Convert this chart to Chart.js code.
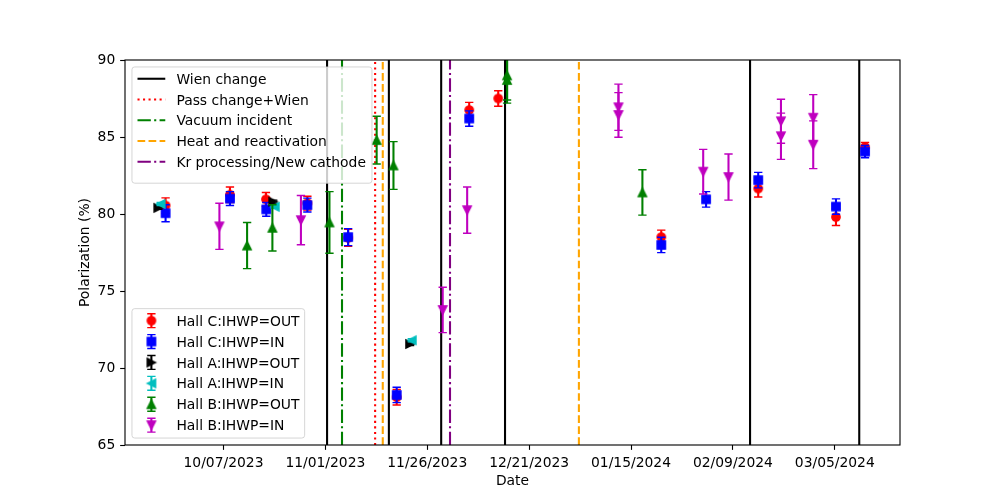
<!DOCTYPE html>
<html><head><meta charset="utf-8">
<script src="https://cdn.jsdelivr.net/npm/chart.js@4"></script>
<style>html,body{margin:0;padding:0;background:#fff}</style>
</head><body>
<canvas id="c" width="1000" height="500"></canvas>
<script>
// ---------------- data ----------------
const tickDates  = ['2023-10-07','2023-11-01','2023-11-26','2023-12-21','2024-01-15','2024-02-09','2024-03-05'];
const tickLabels = ['10/07/2023','11/01/2023','11/26/2023','12/21/2023','01/15/2024','02/09/2024','03/05/2024'];
const xStart = '2023-09-12T20';
const xEnd   = '2024-03-21';
const yMin = 65, yMax = 90, yStep = 5;

const hallCOutDates = ['2023-09-22T19','2023-10-08T14','2023-10-17T10','2023-10-27T14','2023-11-06T14','2023-11-18T12','2023-12-06T07','2023-12-13T10','2024-01-22T10','2024-02-15T05','2024-03-05T07','2024-03-12T10'];
const hallCOutPol   = [80.55, 81.25, 80.95, 80.7, 78.45, 68.1, 86.75, 87.5, 78.5, 81.65, 79.8, 84.35];
const hallCOutErr   = [0.5, 0.5, 0.45, 0.45, 0.55, 0.5, 0.5, 0.5, 0.45, 0.55, 0.55, 0.3];

const hallCInDates = ['2023-09-22T19','2023-10-08T14','2023-10-17T12','2023-10-27T14','2023-11-06T14','2023-11-18T12','2023-12-06T07','2024-01-22T10','2024-02-02T10','2024-02-15T05','2024-03-05T07','2024-03-12T10'];
const hallCInPol   = [80.05, 81.0, 80.3, 80.58, 78.5, 68.25, 86.2, 77.99, 80.95, 82.2, 80.48, 84.05];
const hallCInErr   = [0.55, 0.45, 0.45, 0.45, 0.55, 0.5, 0.5, 0.5, 0.5, 0.5, 0.5, 0.4];

const hallAOutDates = ['2023-09-21','2023-10-19T05','2023-11-21T19'];
const hallAOutPol   = [80.4, 80.8, 71.56];
const hallAOutErr   = [0.1, 0.1, 0.1];

const hallAInDates = ['2023-09-21T14','2023-10-19T14','2023-11-22T05'];
const hallAInPol   = [80.65, 80.47, 71.8];
const hallAInErr   = [0.1, 0.1, 0.1];

const hallBOutDates = ['2023-10-12T19','2023-10-19','2023-11-02','2023-11-13T14','2023-11-17T17','2023-12-15T14','2023-12-15T14','2024-01-17T19'];
const hallBOutPol   = [77.95, 79.1, 79.45, 84.8, 83.15, 89.0, 88.7, 81.4];
const hallBOutErr   = [1.5, 1.5, 2.0, 1.55, 1.55, 1.6, 1.5, 1.47];

const hallBInDates = ['2023-10-06','2023-10-26','2023-11-29T19','2023-12-05T19','2024-01-11T22','2024-01-11T22','2024-02-01T17','2024-02-07T22','2024-02-20T19','2024-02-20T19','2024-02-28T17','2024-02-28T17'];
const hallBInPol   = [79.2, 79.6, 73.77, 80.25, 86.93, 86.43, 82.75, 82.4, 86.02, 85.05, 86.25, 84.5];
const hallBInErr   = [1.5, 1.6, 1.47, 1.5, 1.5, 1.45, 1.45, 1.5, 1.43, 1.5, 1.5, 1.55];

const wienDates     = ['2023-11-01T10','2023-11-16T14','2023-11-29T10','2023-12-15T02','2024-02-13T05','2024-03-11'];
const passWienDates = ['2023-11-13T05'];
const vacuumDates   = ['2023-11-05T02'];
const heatDates     = ['2023-11-15T02','2024-01-02T05'];
const krDates       = ['2023-12-01T14'];

// ---------------- helpers / styles ----------------
const PT = 100/72;
const FS = 10*PT;
const FONT = 'DejaVu Sans';
const CAP = 3*PT;
function toDay(s){ return Date.parse(s.length > 10 ? s + ':00:00Z' : s + 'T00:00:00Z') / 864e5; }

function makeMarker(shape, color){
  const c = document.createElement('canvas'); c.width = 16; c.height = 16;
  const g = c.getContext('2d'); const h = 3*PT;
  g.translate(8,8); g.beginPath();
  if (shape==='o') g.arc(0,0,h,0,2*Math.PI);
  else if (shape==='s') g.rect(-h,-h,2*h,2*h);
  else if (shape==='^'){ g.moveTo(0,-h); g.lineTo(-h,h); g.lineTo(h,h); g.closePath(); }
  else if (shape==='v'){ g.moveTo(0,h); g.lineTo(-h,-h); g.lineTo(h,-h); g.closePath(); }
  else if (shape==='>'){ g.moveTo(h,0); g.lineTo(-h,-h); g.lineTo(-h,h); g.closePath(); }
  else if (shape==='<'){ g.moveTo(-h,0); g.lineTo(h,-h); g.lineTo(h,h); g.closePath(); }
  g.fillStyle = color; g.fill();
  g.lineWidth = PT; g.strokeStyle = color; g.lineJoin = 'miter'; g.stroke();
  return c;
}

const series = [
  {label:'Hall C:IHWP=OUT', dates:hallCOutDates, vals:hallCOutPol, errs:hallCOutErr, color:'#ff0000', marker:'o', order:6},
  {label:'Hall C:IHWP=IN',  dates:hallCInDates,  vals:hallCInPol,  errs:hallCInErr,  color:'#0000ff', marker:'s', order:5},
  {label:'Hall A:IHWP=OUT', dates:hallAOutDates, vals:hallAOutPol, errs:hallAOutErr, color:'#000000', marker:'>', order:4},
  {label:'Hall A:IHWP=IN',  dates:hallAInDates,  vals:hallAInPol,  errs:hallAInErr,  color:'#00bfbf', marker:'<', order:3},
  {label:'Hall B:IHWP=OUT', dates:hallBOutDates, vals:hallBOutPol, errs:hallBOutErr, color:'#008000', marker:'^', order:2},
  {label:'Hall B:IHWP=IN',  dates:hallBInDates,  vals:hallBInPol,  errs:hallBInErr,  color:'#bf00bf', marker:'v', order:1},
];
const DASHDOT = [9.6*PT, 2.4*PT, 1.5*PT, 2.4*PT];
const lineDefs = [
  {label:'Wien change', dates:wienDates, color:'#000000', dash:[]},
  {label:'Pass change+Wien', dates:passWienDates, color:'#ff0000', dash:[1.5*PT, 2.475*PT]},
  {label:'Vacuum incident', dates:vacuumDates, color:'#008000', dash:DASHDOT},
  {label:'Heat and reactivation', dates:heatDates, color:'#ffa500', dash:[5.55*PT, 2.4*PT]},
  {label:'Kr processing/New cathode', dates:krDates, color:'#800080', dash:DASHDOT},
];

const datasets = [];
lineDefs.forEach(l => {
  const pts = [];
  l.dates.forEach(d => { const x = toDay(d); pts.push({x, y:yMin}, {x, y:yMax}, {x, y:null}); });
  datasets.push({label:l.label, data:pts, showLine:true, spanGaps:false, borderColor:l.color,
    borderWidth:1.5*PT, borderDash:l.dash, pointRadius:0, order:10, isVLine:true});
});
series.forEach(s => {
  s.img = makeMarker(s.marker, s.color);
  datasets.push({label:s.label, data:s.dates.map((d,i)=>({x:toDay(d), y:s.vals[i]})),
    errs:s.errs, errColor:s.color, pointStyle:s.img, pointRadius:5, pointHoverRadius:5,
    showLine:false, order:s.order});
});

// ---------------- plugins ----------------
const errPlugin = {
  id:'errbars',
  beforeDatasetDraw(chart, args){
    const ds = chart.data.datasets[args.index];
    if (!ds.errs) return;
    const {ctx, chartArea:a} = chart; const xs = chart.scales.x, ys = chart.scales.y;
    ctx.save();
    ctx.beginPath(); ctx.rect(a.left, a.top, a.right-a.left, a.bottom-a.top); ctx.clip();
    ctx.strokeStyle = ds.errColor; ctx.lineCap = 'butt'; ctx.setLineDash([]);
    ds.data.forEach((p,i) => {
      const px = xs.getPixelForValue(p.x);
      const y1 = ys.getPixelForValue(p.y - ds.errs[i]);
      const y2 = ys.getPixelForValue(p.y + ds.errs[i]);
      ctx.lineWidth = 1.5*PT;
      ctx.beginPath(); ctx.moveTo(px,y1); ctx.lineTo(px,y2); ctx.stroke();
      ctx.lineWidth = PT;
      ctx.beginPath(); ctx.moveTo(px-CAP,y1); ctx.lineTo(px+CAP,y1); ctx.moveTo(px-CAP,y2); ctx.lineTo(px+CAP,y2); ctx.stroke();
    });
    ctx.restore();
  }
};

function roundRect(ctx, x, y, w, h, r){
  ctx.beginPath();
  ctx.moveTo(x+r,y); ctx.lineTo(x+w-r,y); ctx.arcTo(x+w,y,x+w,y+r,r);
  ctx.lineTo(x+w,y+h-r); ctx.arcTo(x+w,y+h,x+w-r,y+h,r);
  ctx.lineTo(x+r,y+h); ctx.arcTo(x,y+h,x,y+h-r,r);
  ctx.lineTo(x,y+r); ctx.arcTo(x,y,x+r,y,r); ctx.closePath();
}

const framePlugin = {
  id:'frame',
  afterDatasetsDraw(chart){
    const {ctx, chartArea:a} = chart;
    ctx.save();
    // spines
    ctx.strokeStyle = '#000'; ctx.lineWidth = 0.8*PT; ctx.setLineDash([]);
    ctx.strokeRect(a.left, a.top, a.right-a.left, a.bottom-a.top);

    const rowH = 20.75;
    ctx.font = FS + 'px "' + FONT + '"';
    ctx.textBaseline = 'middle'; ctx.textAlign = 'left';

    // legend 1 (lines)
    let bx = a.left + 0.5*FS, by = a.top + 0.5*FS;
    let bw = 240, bh = 8 + lineDefs.length*rowH + 4.5;
    roundRect(ctx, bx, by, bw, bh, 0.2*FS);
    ctx.fillStyle = 'rgba(255,255,255,0.8)'; ctx.fill();
    ctx.strokeStyle = 'rgba(204,204,204,0.8)'; ctx.lineWidth = 1; ctx.stroke();
    lineDefs.forEach((l,i) => {
      const yy = by + 11.8 + i*rowH;
      ctx.strokeStyle = l.color; ctx.lineWidth = 1.5*PT; ctx.setLineDash(l.dash); ctx.lineCap='butt';
      ctx.beginPath(); ctx.moveTo(bx + 0.4*FS, yy); ctx.lineTo(bx + 2.4*FS, yy); ctx.stroke();
      ctx.setLineDash([]);
      ctx.fillStyle = '#000'; ctx.fillText(l.label, bx + 3.2*FS, yy + 1.5);
    });

    // legend 2 (markers)
    bw = 172.7; bh = 129.4;
    bx = a.left + 0.5*FS; by = a.bottom - 0.5*FS - bh;
    roundRect(ctx, bx, by, bw, bh, 0.2*FS);
    ctx.fillStyle = 'rgba(255,255,255,0.8)'; ctx.fill();
    ctx.strokeStyle = 'rgba(204,204,204,0.8)'; ctx.lineWidth = 1; ctx.stroke();
    series.forEach((s,i) => {
      const yy = by + 12 + i*20.9;
      const cx = bx + 1.4*FS;
      const e = 0.5*FS;
      ctx.strokeStyle = s.color;
      ctx.lineWidth = 1.5*PT;
      ctx.beginPath(); ctx.moveTo(cx, yy-e); ctx.lineTo(cx, yy+e); ctx.stroke();
      ctx.lineWidth = PT;
      ctx.beginPath(); ctx.moveTo(cx-CAP, yy-e); ctx.lineTo(cx+CAP, yy-e); ctx.moveTo(cx-CAP, yy+e); ctx.lineTo(cx+CAP, yy+e); ctx.stroke();
      ctx.drawImage(s.img, cx-8, yy-8);
      ctx.fillStyle = '#000'; ctx.fillText(s.label, bx + 3.2*FS, yy + 1.5);
    });

    // axis titles
    ctx.fillStyle = '#000'; ctx.textAlign = 'center'; ctx.textBaseline = 'middle';
    ctx.fillText('Date', (a.left + a.right)/2, 481);
    ctx.translate(85, (a.top + a.bottom)/2); ctx.rotate(-Math.PI/2);
    ctx.fillText('Polarization (%)', 0, 0);
    ctx.restore();
  }
};

Chart.defaults.font.family = FONT;
Chart.defaults.font.size = FS;
Chart.defaults.color = '#000';

new Chart(document.getElementById('c'), {
  type:'scatter',
  data:{datasets},
  options:{
    responsive:false, animation:false, devicePixelRatio:1, events:[],
    layout:{padding:{left:0, right:100, top:60, bottom:0}},
    plugins:{legend:{display:false}, tooltip:{enabled:false}},
    scales:{
      x:{type:'linear', min:toDay(xStart), max:toDay(xEnd),
         afterBuildTicks(axis){ axis.ticks = tickDates.map(d => ({value:toDay(d)})); },
         afterFit(axis){ axis.height = 55; },
         border:{display:false},
         grid:{display:true, drawOnChartArea:false, drawTicks:true, tickLength:3.5*PT, tickWidth:0.8*PT, tickColor:'#000'},
         ticks:{autoSkip:false, maxRotation:0, minRotation:0, padding:3.5*PT, color:'#000',
                callback:(v,i) => tickLabels[i]}},
      y:{type:'linear', min:yMin, max:yMax,
         afterFit(axis){ axis.width = 125; },
         border:{display:false},
         grid:{display:true, drawOnChartArea:false, drawTicks:true, tickLength:3.5*PT, tickWidth:0.8*PT, tickColor:'#000'},
         ticks:{stepSize:yStep, padding:3.5*PT, color:'#000'}}
    }
  },
  plugins:[errPlugin, framePlugin]
});
</script>
</body></html>
